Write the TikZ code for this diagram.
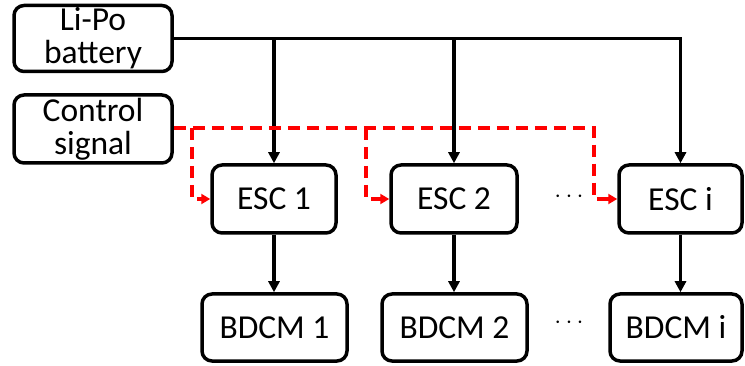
\documentclass[tikz,border=0pt]{standalone}
\usepackage{fontspec}
\setmainfont{Carlito}
\usetikzlibrary{arrows.meta}
\begin{document}
\begin{tikzpicture}[x=1pt,y=-1pt,
  box/.style={draw=black, line width=3.5pt, rounded corners=10pt, align=center,
    inner sep=0pt, font=\fontsize{33.5}{33}\selectfont},
  pow/.style={draw=black, line width=3.5pt, -{Triangle[length=11pt,width=11pt]}},
  sig/.style={draw=red, line width=3.5pt, dash pattern=on 12pt off 7pt, -{Triangle[length=9pt,width=10pt]}},
  dots/.style={font=\fontsize{33.5}{33}\selectfont}]
\useasboundingbox (0,0) rectangle (745,366);
\node[box, minimum width=158pt, minimum height=66pt] (bat) at (93,38.5) {Li-Po\\battery};
\node[box, minimum width=158pt, minimum height=68pt] (ctrl) at (93,129) {Control\\signal};
\node[box, minimum width=124pt, minimum height=68pt] (esc1) at (274,199) {ESC 1};
\node[box, minimum width=126pt, minimum height=68pt] (esc2) at (454,199) {ESC 2};
\node[box, minimum width=123pt, minimum height=68pt] (esci) at (680.5,199) {ESC i};
\node[box, minimum width=145pt, minimum height=67pt] (bd1) at (274.5,327.5) {BDCM 1};
\node[box, minimum width=145pt, minimum height=67pt] (bd2) at (454.5,327.5) {BDCM 2};
\node[box, minimum width=132pt, minimum height=67pt] (bdi) at (676,327.5) {BDCM i};
\node[dots] (dt1) at (569,197) {$\cdots$};
\node[dots] (dt2) at (569,323) {$\cdots$};
% power bus
\coordinate (b1) at (esc1.north |- bat.east);
\coordinate (b2) at (esc2.north |- bat.east);
\draw[pow] (bat.east) -| (esci.north);
\draw[pow] (b1) -- (esc1.north);
\draw[pow] (b2) -- (esc2.north);
% ESC to BDCM
\draw[pow] (esc1.south) -- (esc1.south |- bd1.north);
\draw[pow] (esc2.south) -- (esc2.south |- bd2.north);
\draw[pow] (esci.south) -- (esci.south |- bdi.north);
% control signal
\coordinate (s1) at (192,128);
\coordinate (s2) at (366,128);
\coordinate (s3) at (594,128);
\draw[sig] (ctrl.east |- s1) -- (s3) |- (esci.west);
\draw[sig] (s1) |- (esc1.west);
\draw[sig] (s2) |- (esc2.west);
\end{tikzpicture}
\end{document}
